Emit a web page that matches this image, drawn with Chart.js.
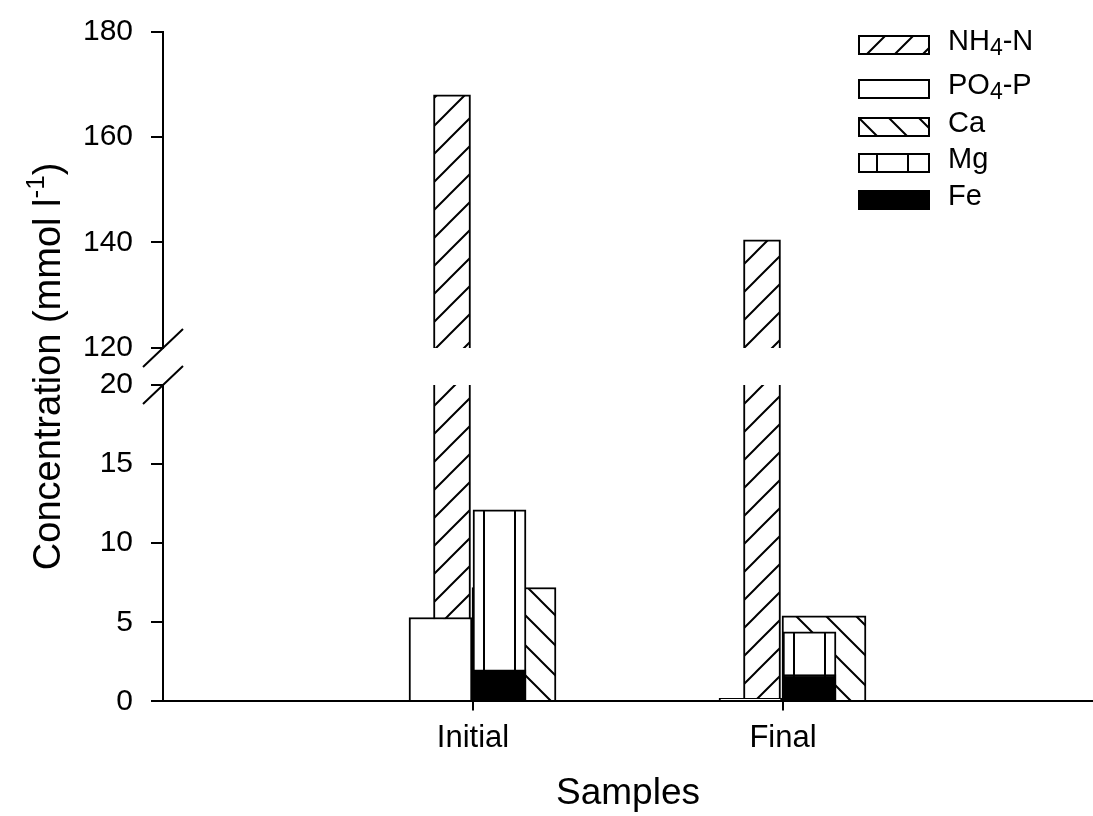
<!DOCTYPE html>
<html>
<head>
<meta charset="utf-8">
<script src="https://cdn.jsdelivr.net/npm/chart.js@4.4.1/dist/chart.umd.min.js"></script>
<style>
  html, body { margin: 0; padding: 0; background: #fff; }
  canvas { display: block; }
</style>
</head>
<body>
<canvas id="chart" width="1093" height="816"></canvas>
<script>
// Samples and concentrations (mmol l-1)
const categories = ['Initial', 'Final'];
const nh4 = [168, 140.5];
const po4 = [5.3, 0.2];
const ca = [7.2, 5.4];
const mg = [12.1, 4.4];
const fe = [2.0, 1.7];

// Tick labels either side of the axis break
const lowTicks = [0, 5, 10, 15, 20];
const highTicks = [120, 140, 160, 180];

const legendLabels = ['NH4-N', 'PO4-P', 'Ca', 'Mg', 'Fe'];

const FONT = "'Liberation Sans', Arial, sans-serif";
Chart.defaults.font.family = FONT;
Chart.defaults.color = '#000';

// hatch fills
function makePattern(w, h, draw) {
    const c = document.createElement('canvas');
    c.width = w;
    c.height = h;
    const g = c.getContext('2d');
    g.fillStyle = '#fff';
    g.fillRect(0, 0, w, h);
    g.strokeStyle = '#000';
    g.lineWidth = 2;
    g.beginPath();
    draw(g, w, h);
    g.stroke();
    return g.createPattern(c, 'repeat');
}

const fwdHatch = makePattern(28, 28, (g, s) => {
    g.moveTo(-2, s + 2); g.lineTo(s + 2, -2);
    g.moveTo(-2, 2); g.lineTo(2, -2);
    g.moveTo(s - 2, s + 2); g.lineTo(s + 2, s - 2);
});
const backHatch = makePattern(30, 30, (g, s) => {
    g.moveTo(-2, -2); g.lineTo(s + 2, s + 2);
    g.moveTo(s - 2, -2); g.lineTo(s + 2, 2);
    g.moveTo(-2, s - 2); g.lineTo(2, s + 2);
});
const vertLines = makePattern(31, 4, (g, w, h) => {
    g.moveTo(19, 0); g.lineTo(19, h);
});

const legendFills = [fwdHatch, '#fff', backHatch, vertLines, '#000'];

const xy = arr => arr.map((v, i) => ({ x: i, y: v }));

// hidden x axes shift each series sideways inside its category
const stepPx = 310;
function barAxis(offsetPx) {
    return {
        type: 'linear', display: false, offset: false, grid: { offset: false },
        min: -1 - offsetPx / stepPx, max: 2 - offsetPx / stepPx
    };
}

const yCommon = {
    type: 'linear',
    position: 'left',
    stack: 'conc',
    border: { color: '#000', width: 2, z: 1 },
    grid: { drawOnChartArea: false, tickLength: 12, color: '#000', lineWidth: 2 },
    ticks: { font: { size: 30, lineHeight: 0.9 }, padding: 18, color: '#000', callback: v => String(v) },
    afterFit(s) { s.width = 163; }
};

// draw each bar only inside its own part of the broken axis
const clipToAxis = {
    id: 'clipToAxis',
    beforeDatasetDraw(chart, args) {
        const y = args.meta.yScale;
        const ctx = chart.ctx;
        ctx.save();
        ctx.beginPath();
        ctx.rect(chart.chartArea.left, y.top, chart.chartArea.width, y.bottom - y.top);
        ctx.clip();
    },
    afterDatasetDraw(chart) {
        chart.ctx.restore();
    }
};

function drawParts(ctx, parts, x, y) {
    parts.forEach(p => {
        ctx.font = p.size + 'px ' + FONT;
        ctx.fillText(p.text, x, y + (p.dy || 0));
        x += ctx.measureText(p.text).width;
    });
}

function partsWidth(ctx, parts) {
    let w = 0;
    parts.forEach(p => {
        ctx.font = p.size + 'px ' + FONT;
        w += ctx.measureText(p.text).width;
    });
    return w;
}

const breakMarks = {
    id: 'breakMarks',
    afterDraw(chart) {
        const ctx = chart.ctx;
        const lo = chart.scales.yLow, hi = chart.scales.yHigh;
        const x = lo.right;
        ctx.save();
        ctx.strokeStyle = '#000';
        ctx.lineWidth = 2;
        ctx.beginPath();
        [hi.bottom, lo.top].forEach(y => {
            ctx.moveTo(x - 20, y + 19);
            ctx.lineTo(x + 20, y - 19);
        });
        ctx.stroke();
        ctx.restore();
    }
};

const patternLegend = {
    id: 'patternLegend',
    afterDraw(chart) {
        const ctx = chart.ctx;
        const tops = [35, 79, 117, 153, 190];
        const bx = 858, bw = 72, bh = 20, tx = 948, size = 29;
        ctx.save();
        legendLabels.forEach((label, i) => {
            ctx.save();
            ctx.translate(bx, tops[i]);
            ctx.fillStyle = legendFills[i];
            ctx.fillRect(0, 0, bw, bh);
            ctx.strokeStyle = '#000';
            ctx.lineWidth = 2;
            ctx.strokeRect(1, 1, bw - 2, bh - 2);
            ctx.restore();
            const parts = label.split(/(\d)/).filter(s => s).map(s =>
                /\d/.test(s) ? { text: s, size: 23, dy: 7 } : { text: s, size: size });
            ctx.fillStyle = '#000';
            ctx.textBaseline = 'middle';
            drawParts(ctx, parts, tx, tops[i] + bh / 2 - 3);
        });
        ctx.restore();
    }
};

const yTitle = {
    id: 'yTitle',
    afterDraw(chart) {
        const { ctx, chartArea } = chart;
        const size = 38;
        const parts = [
            { text: 'Concentration (mmol l', size: size },
            { text: '-1', size: 26, dy: -16 },
            { text: ')', size: size }
        ];
        ctx.save();
        ctx.translate(60, (chartArea.top + chartArea.bottom) / 2);
        ctx.rotate(-Math.PI / 2);
        ctx.fillStyle = '#000';
        ctx.textBaseline = 'alphabetic';
        drawParts(ctx, parts, -partsWidth(ctx, parts) / 2, 0);
        ctx.restore();
    }
};

const barCommon = { borderColor: '#000', borderWidth: 2, grouped: false };

new Chart(document.getElementById('chart'), {
    type: 'bar',
    data: {
        datasets: [
            { ...barCommon, label: 'NH4-N', data: xy(nh4), xAxisID: 'xNH', yAxisID: 'yHigh', backgroundColor: fwdHatch, barThickness: 37, order: 5 },
            { ...barCommon, label: 'NH4-N', data: xy(nh4), xAxisID: 'xNH', yAxisID: 'yLow', backgroundColor: fwdHatch, barThickness: 37, order: 4 },
            { ...barCommon, label: 'PO4-P', data: xy(po4), xAxisID: 'xPO', yAxisID: 'yLow', backgroundColor: '#fff', barThickness: 63, order: 3 },
            { ...barCommon, label: 'Ca', data: xy(ca), xAxisID: 'xCa', yAxisID: 'yLow', backgroundColor: backHatch, barThickness: 84, order: 2 },
            { ...barCommon, label: 'Mg', data: xy(mg), xAxisID: 'xMg', yAxisID: 'yLow', backgroundColor: vertLines, barThickness: 53, order: 1 },
            { ...barCommon, label: 'Fe', data: xy(fe), xAxisID: 'xMg', yAxisID: 'yLow', backgroundColor: '#000', barThickness: 53, order: 0 }
        ]
    },
    options: {
        responsive: false,
        animation: false,
        events: [],
        layout: { padding: { top: 29, left: 0, right: 0, bottom: 0 } },
        plugins: {
            legend: { display: false },
            tooltip: { enabled: false }
        },
        scales: {
            x: {
                type: 'linear',
                position: 'bottom',
                min: -1,
                max: 2,
                offset: false,
                border: { color: '#000', width: 2, z: 1 },
                grid: { offset: false, drawOnChartArea: false, tickLength: 9, color: '#000', lineWidth: 2 },
                ticks: { font: { size: 31 }, padding: 9, color: '#000', callback: v => categories[v] },
                afterBuildTicks(s) { s.ticks = categories.map((c, i) => ({ value: i })); },
                title: { display: true, text: 'Samples', font: { size: 37 }, color: '#000', padding: { top: 6, bottom: 0 } }
            },
            xNH: barAxis(-21),
            xPO: barAxis(-32.5),
            xMg: barAxis(26.5),
            xCa: barAxis(41),
            yLow: {
                ...yCommon,
                min: 0,
                max: 20,
                stackWeight: 317,
                afterBuildTicks(s) { s.ticks = lowTicks.map(v => ({ value: v })); }
            },
            yGap: {
                type: 'linear',
                position: 'left',
                stack: 'conc',
                stackWeight: 37,
                display: false,
                afterFit(s) { s.width = 163; }
            },
            yHigh: {
                ...yCommon,
                min: 120,
                max: 180,
                stackWeight: 317,
                afterBuildTicks(s) { s.ticks = highTicks.map(v => ({ value: v })); }
            }
        }
    },
    plugins: [clipToAxis, breakMarks, patternLegend, yTitle]
});
</script>
</body>
</html>
